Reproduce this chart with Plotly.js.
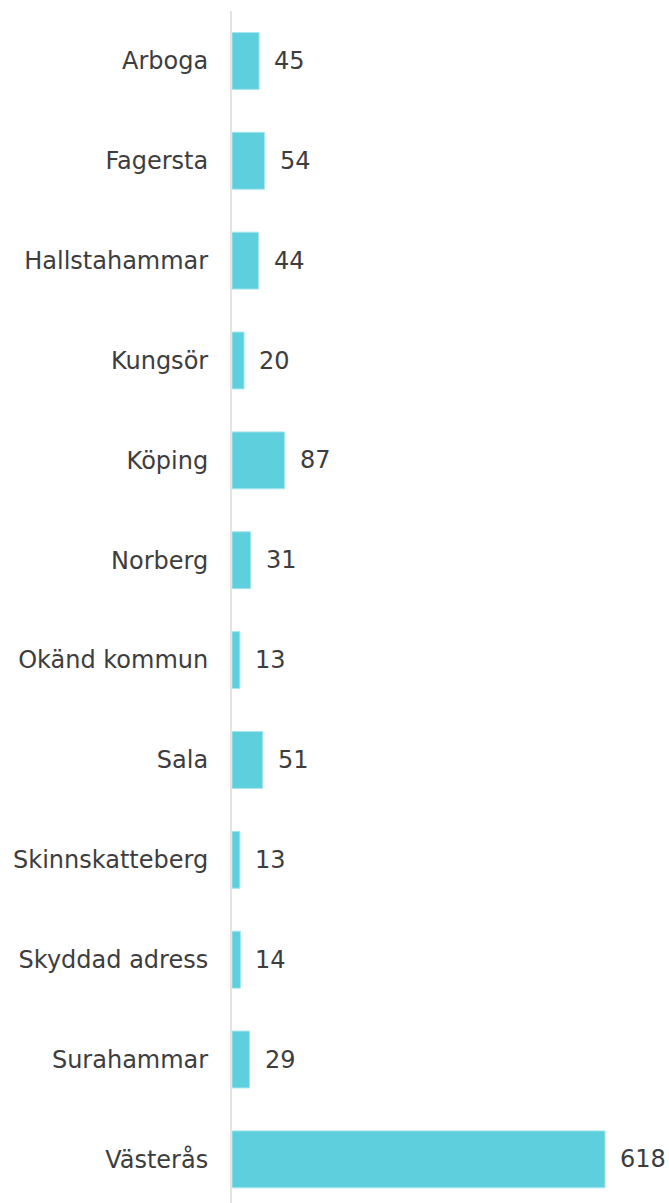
<!DOCTYPE html>
<html>
<head>
<meta charset="utf-8">
<script src="https://cdn.plot.ly/plotly-3.0.1.min.js"></script>
<style>html,body{margin:0;padding:0;background:#fff;}#chart{width:669px;height:1203px;}</style>
</head>
<body>
<div id="chart"></div>
<script>
const categories = ["Arboga","Fagersta","Hallstahammar","Kungsör","Köping","Norberg","Okänd kommun","Sala","Skinnskatteberg","Skyddad adress","Surahammar","Västerås"];
const values = [45,54,44,20,87,31,13,51,13,14,29,618];

const textColor = '#3d3d3d';
const font = {family: 'DejaVu Sans, Verdana, sans-serif', size: 24, color: textColor};

const trace = {
  type: 'bar',
  orientation: 'h',
  x: values,
  y: categories,
  width: 0.57,
  marker: {color: '#5ecfdc', line: {color: '#a8e6ee', width: 1}},
  hoverinfo: 'none'
};

const annotations = values.map((v, i) => ({
  x: v, y: categories[i], xref: 'x', yref: 'y',
  text: String(v), showarrow: false, xanchor: 'left', yanchor: 'middle',
  xshift: 13, font: font
}));

const layout = {
  width: 669, height: 1203,
  margin: {l: 232, r: 0, t: 11, b: 0, pad: 0},
  paper_bgcolor: '#fff', plot_bgcolor: '#fff',
  showlegend: false,
  font: font,
  xaxis: {range: [0, 724], autorange: false, showgrid: false, zeroline: false, showticklabels: false, ticks: '', showline: false},
  yaxis: {
    type: 'category', categoryorder: 'array', categoryarray: categories,
    range: [11.437, -0.5], autorange: false,
    showgrid: false, zeroline: false, showline: true, linecolor: '#e3e3e3', linewidth: 2,
    ticks: '', ticklabelstandoff: 17, tickfont: font
  },
  annotations: annotations
};

Plotly.newPlot('chart', [trace], layout, {displayModeBar: false, staticPlot: true});
</script>
</body>
</html>
